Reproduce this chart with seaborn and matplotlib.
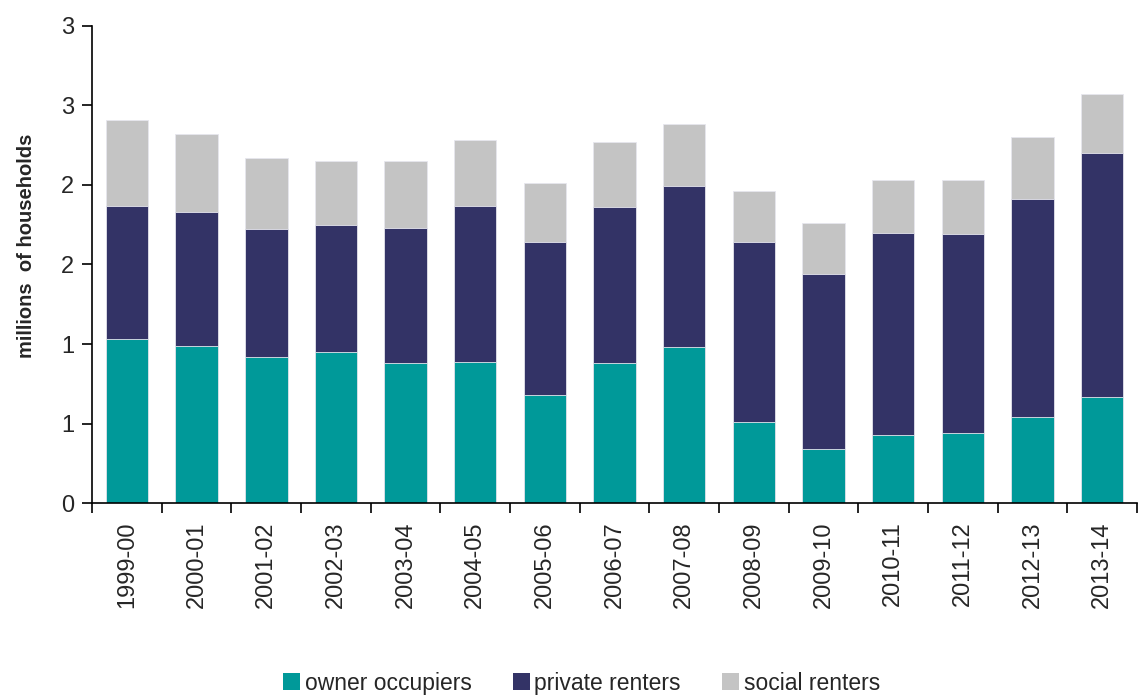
import math
import matplotlib
matplotlib.use("Agg")
import matplotlib.pyplot as plt
import matplotlib.ticker as mticker
from matplotlib.patches import Patch
import numpy as np
import pandas as pd
import seaborn as sns

years = ['1999-00', '2000-01', '2001-02', '2002-03', '2003-04', '2004-05', '2005-06',
         '2006-07', '2007-08', '2008-09', '2009-10', '2010-11', '2011-12', '2012-13', '2013-14']
owner_occupiers = [1.03, 0.99, 0.92, 0.95, 0.88, 0.89, 0.68, 0.88, 0.98, 0.51, 0.34, 0.43, 0.44, 0.54, 0.67]
private_renters = [0.84, 0.84, 0.80, 0.80, 0.85, 0.98, 0.96, 0.98, 1.01, 1.13, 1.10, 1.27, 1.25, 1.37, 1.53]
social_renters = [0.54, 0.49, 0.45, 0.40, 0.42, 0.41, 0.37, 0.41, 0.39, 0.32, 0.32, 0.33, 0.34, 0.39, 0.37]

colors = {'owner occupiers': '#009999', 'private renters': '#333366', 'social renters': '#c4c4c4'}

df = pd.DataFrame({'year': years, 'owner': owner_occupiers,
                   'private': private_renters, 'social': social_renters})
df['cum_private'] = df['owner'] + df['private']
df['cum_social'] = df['cum_private'] + df['social']

sns.set_style('white')
plt.rcParams['font.family'] = ['Liberation Sans', 'DejaVu Sans']

fig = plt.figure(figsize=(11.38, 6.95), dpi=100)
ax = fig.add_axes([0.081, 0.276, 0.918, 0.687])

# stacked bars by drawing cumulative totals from the top layer down
layers = [('cum_social', 'social renters'), ('cum_private', 'private renters'), ('owner', 'owner occupiers')]
for col, name in layers:
    sns.barplot(data=df, x='year', y=col, color=colors[name], saturation=1, width=0.61,
                edgecolor='#e6e6ee', linewidth=0.6, ax=ax)

ax.set_xlim(-0.5, len(years) - 0.5)
ax.set_ylim(0, 3)
ax.yaxis.set_major_locator(mticker.MultipleLocator(0.5))
# Excel-style whole-number labels (0.5 -> 1, 1.5 -> 2, ...)
ax.yaxis.set_major_formatter(mticker.FuncFormatter(lambda v, p: f"{math.floor(v + 0.5 + 1e-9):d}"))

ax.set_xticks(np.arange(len(years)))
ax.set_xticklabels(years, rotation=90)
ax.set_xticks(np.arange(len(years) + 1) - 0.5, minor=True)
ax.tick_params(axis='x', which='major', bottom=False, length=0, pad=13, labelsize=17)
ax.tick_params(axis='x', which='minor', bottom=True, length=7, width=1.2, direction='out', color='black')
ax.tick_params(axis='y', which='major', left=True, length=7, width=1.2, direction='out', color='black',
               labelsize=17, pad=6)

ax.set_xlabel('')
ax.set_ylabel('millions  of households', fontsize=14.5, fontweight='bold')
ax.yaxis.set_label_coords(-0.0535, 0.54)

for s in ['top', 'right']:
    ax.spines[s].set_visible(False)
for s in ['left', 'bottom']:
    ax.spines[s].set_color('black')
    ax.spines[s].set_linewidth(1.2)

handles = [Patch(facecolor=colors[n], edgecolor='none', label=n)
           for n in ['owner occupiers', 'private renters', 'social renters']]
fig.legend(handles=handles, loc='lower center', bbox_to_anchor=(0.511, -0.029), ncol=3,
           frameon=False, fontsize=16.5, handlelength=0.75, handleheight=0.75,
           handletextpad=0.2, columnspacing=1.8)

fig.savefig('out.png', dpi=100)
